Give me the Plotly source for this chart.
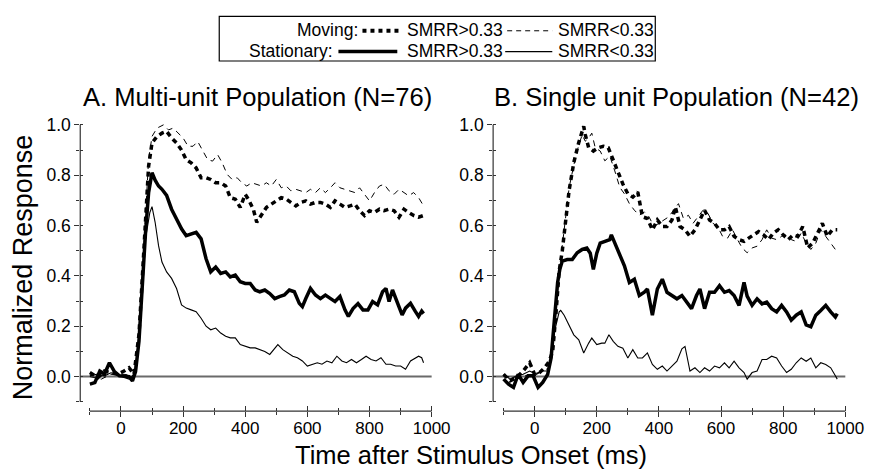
import plotly.graph_objects as go

W, H = 893, 471
FONT = "Liberation Sans, Arial, Helvetica, sans-serif"
AX = "#333333"

# ---------------- data (time in ms, normalized response) ----------------
# Panel A: Multi-unit population
a_stat_hi_t = [-100, -84, -68, -53, -37, -21, -5, 10, 26, 37, 47, 58, 68, 79, 89, 100, 110, 121, 132, 147,
               163, 179, 195, 210, 226, 242, 258, 274, 289, 305, 321, 337, 352, 368, 384, 400, 416, 432, 447, 463,
               479, 495, 510, 526, 542, 558, 574, 584, 595, 610, 626, 642, 658, 674, 689, 705, 721, 732, 747, 763,
               779, 795, 810, 826, 842, 853, 863, 874, 889, 905, 916, 932, 947, 958, 968, 974]
a_stat_hi_v = [-0.03, -0.024, 0.022, 0.01, 0.055, 0.02, 0.003, 0.0, 0.0, -0.017, 0.02, 0.14, 0.35, 0.57, 0.73, 0.81, 0.78, 0.757, 0.744, 0.72,
               0.665, 0.626, 0.587, 0.56, 0.567, 0.573, 0.547, 0.468, 0.416, 0.435, 0.41, 0.416, 0.396, 0.403, 0.377, 0.37, 0.37, 0.344, 0.337, 0.344,
               0.33, 0.31, 0.318, 0.324, 0.344, 0.337, 0.291, 0.278, 0.31, 0.35, 0.324, 0.31, 0.324, 0.31, 0.298, 0.318, 0.265, 0.239, 0.27, 0.29,
               0.265, 0.265, 0.298, 0.285, 0.337, 0.35, 0.298, 0.344, 0.298, 0.245, 0.272, 0.291, 0.26, 0.239, 0.26, 0.25]

a_stat_lo_t = [-100, -74, -53, -32, -11, 10, 26, 42, 58, 68, 79, 93, 100, 110, 121, 132, 147, 163, 179, 195,
               210, 226, 242, 258, 274, 289, 305, 321, 337, 352, 368, 384, 400, 416, 432, 447, 463, 479, 495, 505,
               521, 537, 553, 568, 584, 600, 616, 632, 647, 663, 679, 695, 711, 726, 742, 758, 774, 789, 805, 821,
               837, 853, 868, 884, 900, 916, 932, 947, 958, 968, 974]
a_stat_lo_v = [0.003, 0.01, 0.003, 0.015, 0.01, -0.004, -0.01, 0.01, 0.127, 0.32, 0.547, 0.652, 0.675, 0.613, 0.52, 0.455, 0.416, 0.39, 0.35, 0.285,
               0.272, 0.265, 0.258, 0.232, 0.2, 0.186, 0.193, 0.173, 0.16, 0.154, 0.154, 0.127, 0.12, 0.114, 0.114, 0.107, 0.1, 0.088, 0.114, 0.127,
               0.107, 0.094, 0.081, 0.075, 0.062, 0.042, 0.049, 0.055, 0.049, 0.062, 0.055, 0.081, 0.062, 0.055, 0.068, 0.055, 0.068, 0.081, 0.068, 0.062,
               0.075, 0.049, 0.049, 0.042, 0.042, 0.029, 0.062, 0.075, 0.081, 0.075, 0.055]

a_mov_hi_t = [-100, -74, -53, -32, -11, 10, 26, 42, 58, 68, 79, 89, 100, 116, 132, 147, 163, 179, 195, 210,
              226, 242, 258, 274, 289, 305, 321, 337, 352, 368, 384, 400, 410, 426, 437, 453, 468, 484, 500, 516,
              532, 547, 563, 579, 595, 610, 626, 642, 658, 674, 689, 705, 721, 737, 753, 768, 784, 800, 816, 832,
              847, 863, 879, 895, 911, 926, 942, 958, 974]
a_mov_hi_v = [0.016, -0.004, 0.022, 0.016, 0.009, 0.022, 0.035, 0.009, 0.167, 0.377, 0.64, 0.836, 0.928, 0.954, 0.967, 0.974, 0.948, 0.928, 0.9, 0.862,
              0.849, 0.829, 0.79, 0.79, 0.783, 0.77, 0.77, 0.757, 0.711, 0.705, 0.672, 0.724, 0.705, 0.665, 0.613, 0.646, 0.672, 0.685, 0.698, 0.711,
              0.705, 0.692, 0.678, 0.692, 0.698, 0.685, 0.692, 0.692, 0.685, 0.672, 0.698, 0.685, 0.672, 0.678, 0.685, 0.659, 0.64, 0.659, 0.652, 0.665,
              0.659, 0.665, 0.659, 0.633, 0.665, 0.652, 0.64, 0.633, 0.64]

a_mov_lo_t = [-100, -63, -32, 10, 42, 58, 68, 79, 89, 100, 116, 137, 153, 168, 184, 200, 216, 232, 247, 263,
              279, 295, 311, 326, 342, 358, 374, 389, 405, 421, 437, 453, 468, 484, 500, 516, 532, 547, 563, 579,
              595, 610, 626, 642, 658, 674, 689, 705, 721, 737, 753, 768, 784, 800, 816, 832, 847, 863, 879, 895,
              911, 926, 942, 958, 974]
a_mov_lo_v = [0.0, -0.01, 0.009, 0.009, 0.003, 0.167, 0.39, 0.64, 0.862, 0.954, 0.987, 1.0, 0.98, 0.987, 0.967, 0.948, 0.915, 0.915, 0.934, 0.9,
              0.862, 0.856, 0.882, 0.849, 0.803, 0.783, 0.79, 0.77, 0.757, 0.77, 0.764, 0.757, 0.77, 0.757, 0.783, 0.75, 0.757, 0.738, 0.744, 0.738,
              0.731, 0.744, 0.731, 0.75, 0.731, 0.75, 0.77, 0.75, 0.744, 0.738, 0.731, 0.75, 0.724, 0.698, 0.731, 0.757, 0.764, 0.738, 0.724, 0.744,
              0.731, 0.718, 0.731, 0.711, 0.678]

# Panel B: Single unit population
b_stat_hi_t = [-100, -84, -68, -53, -37, -21, -5, 11, 26, 42, 53, 63, 74, 81, 89, 105, 121, 137, 153, 168,
               179, 189, 200, 211, 226, 242, 247, 258, 274, 289, 305, 321, 337, 353, 363, 379, 395, 411, 426, 442,
               458, 474, 489, 505, 521, 532, 547, 563, 579, 595, 611, 626, 642, 658, 674, 684, 700, 716, 732, 747,
               763, 779, 795, 811, 826, 842, 858, 874, 889, 905, 921, 937, 953, 968, 974]
b_stat_hi_v = [-0.01, -0.03, -0.043, 0.009, -0.023, 0.003, 0.003, -0.043, -0.023, 0.009, 0.074, 0.218, 0.374, 0.426, 0.459, 0.465, 0.465, 0.492, 0.505, 0.511,
               0.49, 0.426, 0.49, 0.53, 0.537, 0.544, 0.563, 0.53, 0.485, 0.44, 0.374, 0.387, 0.322, 0.335, 0.348, 0.244, 0.348, 0.387, 0.335, 0.322,
               0.309, 0.322, 0.296, 0.27, 0.322, 0.348, 0.27, 0.335, 0.335, 0.361, 0.335, 0.342, 0.322, 0.283, 0.374, 0.32, 0.283, 0.309, 0.289, 0.296,
               0.27, 0.257, 0.283, 0.257, 0.224, 0.244, 0.257, 0.205, 0.198, 0.244, 0.263, 0.283, 0.257, 0.237, 0.25]

b_stat_lo_t = [-100, -79, -58, -37, -16, 5, 26, 42, 53, 66, 79, 84, 95, 111, 126, 142, 158, 174, 184, 200,
               216, 226, 239, 253, 268, 284, 300, 316, 332, 347, 363, 379, 395, 411, 426, 442, 458, 474, 484, 500,
               516, 532, 547, 563, 579, 595, 611, 626, 642, 658, 674, 684, 700, 716, 732, 747, 763, 779, 795, 811,
               826, 842, 858, 874, 889, 905, 921, 937, 953, 968, 974]
b_stat_lo_v = [0.009, -0.01, 0.003, 0.009, 0.022, 0.009, 0.022, 0.022, 0.087, 0.19, 0.257, 0.263, 0.244, 0.205, 0.166, 0.146, 0.094, 0.133, 0.153, 0.127,
               0.133, 0.133, 0.166, 0.14, 0.12, 0.113, 0.074, 0.107, 0.074, 0.074, 0.094, 0.048, 0.029, 0.042, 0.022, 0.042, 0.061, 0.11, 0.12, 0.022,
               0.035, 0.016, 0.035, 0.022, 0.042, 0.035, 0.055, 0.035, 0.061, 0.035, 0.016, -0.01, 0.016, 0.022, 0.068, 0.068, 0.081, 0.074, 0.042, 0.016,
               0.029, 0.055, 0.074, 0.061, 0.074, 0.035, 0.055, 0.048, 0.035, 0.003, -0.01]

b_mov_hi_t = [-100, -79, -58, -37, -16, 0, 16, 32, 47, 58, 68, 79, 89, 100, 111, 126, 142, 158, 163, 174,
              189, 205, 221, 237, 253, 268, 284, 300, 316, 332, 347, 363, 379, 395, 411, 426, 442, 453, 468, 484,
              500, 516, 532, 547, 563, 579, 595, 611, 626, 642, 658, 674, 689, 705, 721, 737, 753, 768, 784, 800,
              816, 832, 847, 863, 879, 895, 911, 926, 942, 958, 974]
b_mov_hi_v = [0.009, -0.017, -0.004, 0.022, 0.055, 0.009, 0.016, 0.035, 0.061, 0.1, 0.24, 0.42, 0.5, 0.63, 0.74, 0.85, 0.93, 0.994, 0.961, 0.909,
              0.896, 0.909, 0.915, 0.909, 0.857, 0.817, 0.765, 0.726, 0.713, 0.733, 0.635, 0.628, 0.583, 0.622, 0.596, 0.596, 0.622, 0.674, 0.596, 0.583,
              0.557, 0.583, 0.622, 0.661, 0.622, 0.609, 0.583, 0.583, 0.596, 0.557, 0.544, 0.537, 0.55, 0.563, 0.576, 0.563, 0.544, 0.57, 0.583, 0.563,
              0.544, 0.563, 0.557, 0.596, 0.511, 0.53, 0.57, 0.609, 0.557, 0.583, 0.583]

b_mov_lo_t = [-100, -68, -37, -5, 26, 47, 58, 68, 79, 89, 100, 111, 126, 142, 153, 163, 174, 184, 195, 211,
              226, 242, 258, 274, 289, 305, 321, 337, 353, 368, 384, 400, 416, 432, 447, 463, 479, 495, 510, 526,
              542, 558, 574, 589, 605, 621, 637, 653, 668, 684, 700, 716, 732, 747, 763, 779, 795, 811, 826, 842,
              858, 874, 889, 905, 921, 937, 953, 968, 974]
b_mov_lo_v = [0.003, -0.004, 0.003, 0.009, 0.022, 0.035, 0.1, 0.25, 0.42, 0.52, 0.64, 0.75, 0.84, 0.92, 0.96, 0.935, 0.948, 0.967, 0.909, 0.896,
              0.857, 0.876, 0.817, 0.752, 0.726, 0.687, 0.661, 0.641, 0.654, 0.635, 0.596, 0.609, 0.622, 0.635, 0.661, 0.687, 0.628, 0.641, 0.609, 0.635,
              0.661, 0.648, 0.609, 0.596, 0.557, 0.55, 0.583, 0.544, 0.511, 0.492, 0.511, 0.518, 0.544, 0.583, 0.55, 0.544, 0.557, 0.563, 0.544, 0.537,
              0.57, 0.53, 0.505, 0.53, 0.583, 0.557, 0.53, 0.505, 0.5]

# axes ticks / labels
x_major = [0, 200, 400, 600, 800, 1000]
x_major_text = ["0", "200", "400", "600", "800", "1000"]
x_minor = [-100, 100, 300, 500, 700, 900]
y_major = [0.0, 0.2, 0.4, 0.6, 0.8, 1.0]
y_major_text = ["0.0", "0.2", "0.4", "0.6", "0.8", "1.0"]
y_minor = [-0.1, 0.1, 0.3, 0.5, 0.7, 0.9]

panel_titles = ["A. Multi-unit Population (N=76)", "B. Single unit Population (N=42)"]
x_title = "Time after Stimulus Onset (ms)"
y_title = "Normalized Response"
legend_rows = ["Moving:", "Stationary:"]
legend_cols = ["SMRR>0.33", "SMRR<0.33"]

# ---------------- helpers ----------------
def px(x):
    return x / W


def py(y):
    return 1 - y / H


STYLE = {
    "mov_hi": dict(color="black", width=3.5, dash="5px,4px"),
    "mov_lo": dict(color="black", width=1, dash="6px,5px"),
    "stat_hi": dict(color="black", width=3.5),
    "stat_lo": dict(color="black", width=1.1),
}

Y_RANGE = [-0.1375, 1.0236]
Y_DOM = [py(410.7), py(115.9)]

panels = [
    dict(xa="x", ya="y", xin="x3", yin="y3", dom=(81.8, 441.6), xr=[-131, 1005],
         series=[("stat_lo", a_stat_lo_t, a_stat_lo_v), ("mov_lo", a_mov_lo_t, a_mov_lo_v),
                 ("mov_hi", a_mov_hi_t, a_mov_hi_v), ("stat_hi", a_stat_hi_t, a_stat_hi_v)]),
    dict(xa="x2", ya="y2", xin="x4", yin="y4", dom=(502.7, 863.3), xr=[-133.6, 1005],
         series=[("stat_lo", b_stat_lo_t, b_stat_lo_v), ("mov_lo", b_mov_lo_t, b_mov_lo_v),
                 ("mov_hi", b_mov_hi_t, b_mov_hi_v), ("stat_hi", b_stat_hi_t, b_stat_hi_v)]),
]

fig = go.Figure()
layout = dict(
    width=W, height=H, margin=dict(l=0, r=0, t=0, b=0),
    paper_bgcolor="white", plot_bgcolor="white", showlegend=False,
    font=dict(family=FONT, color="black"),
)
shapes = []
annotations = []


def axname(a):
    return "xaxis" + a[1:] if a.startswith("x") else "yaxis" + a[1:]


for p in panels:
    for key, t, v in p["series"]:
        fig.add_trace(go.Scatter(x=t, y=v, mode="lines", line=STYLE[key],
                                 xaxis=p["xa"], yaxis=p["ya"], hoverinfo="skip"))
    # dummy traces for overlay (inside-tick) axes
    fig.add_trace(go.Scatter(x=[], y=[], xaxis=p["xin"], yaxis=p["ya"]))
    fig.add_trace(go.Scatter(x=[], y=[], xaxis=p["xa"], yaxis=p["yin"]))

    common_x = dict(range=p["xr"], showgrid=False, zeroline=False, showline=False,
                    tickmode="array", tickvals=x_major, ticktext=x_major_text,
                    tickwidth=1, tickcolor=AX, fixedrange=True)
    common_y = dict(range=Y_RANGE, showgrid=False, zeroline=False, showline=False,
                    tickmode="array", tickvals=y_major, ticktext=y_major_text,
                    tickwidth=1, tickcolor=AX, fixedrange=True)
    layout[axname(p["xa"])] = dict(
        common_x, domain=[px(p["dom"][0]), px(p["dom"][1])], anchor=p["ya"],
        ticks="outside", ticklen=5, ticklabelstandoff=-4,
        tickfont=dict(size=17, family=FONT, color="black"),
        minor=dict(tickmode="array", tickvals=x_minor, ticks="outside", ticklen=3,
                   tickwidth=1, tickcolor=AX, showgrid=False))
    layout[axname(p["xin"])] = dict(
        common_x, overlaying=p["xa"], anchor=p["ya"], side="bottom",
        ticks="inside", ticklen=5, showticklabels=False,
        minor=dict(tickmode="array", tickvals=x_minor, ticks="inside", ticklen=3,
                   tickwidth=1, tickcolor=AX, showgrid=False))
    layout[axname(p["ya"])] = dict(
        common_y, domain=Y_DOM, anchor=p["xa"],
        ticks="outside", ticklen=5, tickfont=dict(size=17.5, family=FONT, color="black"),
        minor=dict(tickmode="array", tickvals=y_minor, ticks="outside", ticklen=3,
                   tickwidth=1, tickcolor=AX, showgrid=False))
    layout[axname(p["yin"])] = dict(
        common_y, overlaying=p["ya"], anchor=p["xa"], side="left",
        ticks="inside", ticklen=3, showticklabels=False,
        minor=dict(tickmode="array", tickvals=y_minor, ticks="inside", ticklen=3,
                   tickwidth=1, tickcolor=AX, showgrid=False))

    # axis lines
    shapes.append(dict(type="line", xref=p["xa"] + " domain", yref=p["ya"], x0=0, x1=0,
                       y0=-0.1, y1=1.0, line=dict(color=AX, width=1.2), layer="above"))
    shapes.append(dict(type="line", xref=p["xa"], yref=p["ya"] + " domain", x0=x_minor[0],
                       x1=x_major[-1], y0=0, y1=0, line=dict(color=AX, width=1.2), layer="above"))
    # zero reference line
    shapes.append(dict(type="line", xref=p["xa"], yref=p["ya"], x0=p["xr"][0], x1=x_major[-1],
                       y0=0, y1=0, line=dict(color="#6a6a6a", width=2), layer="below"))

# panel titles
for title, cx in zip(panel_titles, [263, 690]):
    annotations.append(dict(text=title, x=px(cx), y=py(94), xref="paper", yref="paper",
                            xanchor="center", yanchor="middle", showarrow=False,
                            font=dict(size=25.6, family=FONT, color="black")))
# axis titles
annotations.append(dict(text=x_title, x=px(480), y=py(454.5), xref="paper", yref="paper",
                        xanchor="center", yanchor="middle", showarrow=False,
                        font=dict(size=25.5, family=FONT, color="black")))
annotations.append(dict(text=y_title, x=px(23), y=py(266), xref="paper", yref="paper",
                        xanchor="center", yanchor="middle", showarrow=False, textangle=-90,
                        font=dict(size=27, family=FONT, color="black")))

# legend box
LF = dict(size=17.5, family=FONT, color="black")
shapes.append(dict(type="rect", xref="paper", yref="paper", x0=px(223.5), x1=px(668),
                   y0=py(57.5), y1=py(12.5), line=dict(color="black", width=1.2),
                   fillcolor="white", layer="above"))
row_y = [26.5, 47.5]
row_right = [367, 342]
for label, ry, rr in zip(legend_rows, row_y, row_right):
    annotations.append(dict(text=label, x=px(rr), y=py(ry), xref="paper", yref="paper",
                            xanchor="right", yanchor="middle", showarrow=False, font=LF))
    annotations.append(dict(text=legend_cols[0], x=px(413), y=py(ry), xref="paper", yref="paper",
                            xanchor="left", yanchor="middle", showarrow=False, font=LF))
    annotations.append(dict(text=legend_cols[1], x=px(566.5), y=py(ry), xref="paper", yref="paper",
                            xanchor="left", yanchor="middle", showarrow=False, font=LF))
# legend line samples
samples = [
    (369.5, 408, 27, dict(color="black", width=4, dash="4px,4px")),
    (517, 563, 27, dict(color="black", width=1, dash="5px,4px")),
    (345, 405, 48, dict(color="black", width=3.5)),
    (515, 563, 48, dict(color="black", width=1.1)),
]
for x0, x1, yy, ln in samples:
    shapes.append(dict(type="line", xref="paper", yref="paper", x0=px(x0), x1=px(x1),
                       y0=py(yy), y1=py(yy), line=ln, layer="above"))

layout["shapes"] = shapes
layout["annotations"] = annotations
fig.update_layout(**layout)
fig.write_html("out.html")
